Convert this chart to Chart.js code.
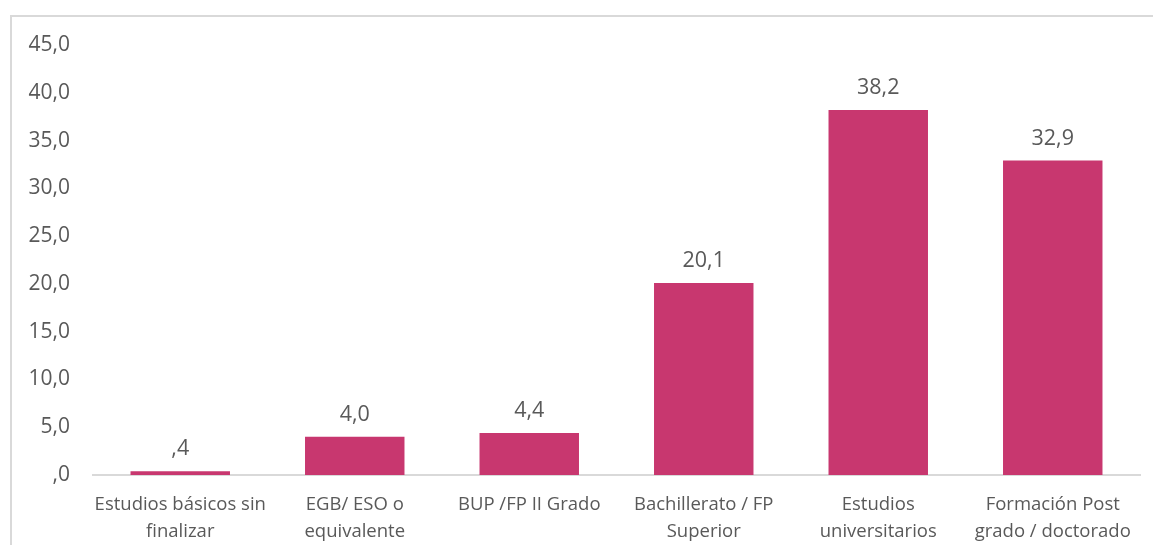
<!DOCTYPE html>
<html lang="es">
<head>
<meta charset="UTF-8">
<title>Nivel de estudios</title>
<style>
  body{margin:0;background:#fff;overflow:hidden;font-family:"Open Sans",sans-serif}
  .frame{position:absolute;left:10px;top:15px;width:1200px;height:600px;border:2px solid #d9d9d9;box-sizing:border-box}
  #wrap{position:absolute;left:0;top:0;width:1153px;height:545px}
</style>
</head>
<body>
<div class="frame"></div>
<div id="wrap"><canvas id="chart" width="1153" height="545"></canvas></div>
<script src="https://cdn.jsdelivr.net/npm/chart.js@4.4.1"></script>
<script>
/* ---------- data ---------- */
const categories = [
  ["Estudios básicos sin", "finalizar"],
  ["EGB/ ESO o", "equivalente"],
  ["BUP /FP II Grado"],
  ["Bachillerato / FP", "Superior"],
  ["Estudios", "universitarios"],
  ["Formación Post", "grado / doctorado"]
];
const values = [0.4, 4.0, 4.4, 20.1, 38.2, 32.9];
const yTicks = [0, 5, 10, 15, 20, 25, 30, 35, 40, 45];

const BAR  = '#c8376f';
const TEXT = '#595959';
const FONT = '"Open Sans", sans-serif';

// Spanish style: comma decimal, leading zero dropped (",4", ",0")
const fmt = v => v.toFixed(1).replace('.', ',').replace(/^0,/, ',');

/* ---------- value labels above bars ---------- */
const valueLabels = {
  id: 'valueLabels',
  afterDatasetsDraw(chart){
    const {ctx} = chart;
    const meta = chart.getDatasetMeta(0);
    ctx.save();
    ctx.fillStyle = TEXT;
    ctx.font = '21.5px ' + FONT;
    ctx.textAlign = 'center';
    ctx.textBaseline = 'middle';
    meta.data.forEach((bar, i) => {
      ctx.fillText(fmt(values[i]), bar.x, bar.y - 22);
    });
    ctx.restore();
  }
};

new Chart(document.getElementById('chart'), {
  type: 'bar',
  data: {
    labels: categories,
    datasets: [{
      data: values,
      backgroundColor: BAR,
      categoryPercentage: 1,
      barPercentage: 0.57
    }]
  },
  options: {
    responsive: false,
    animation: false,
    layout: {padding: {top: 45, right: 13, left: 0, bottom: 0}},
    plugins: {legend: {display: false}, tooltip: {enabled: false}},
    scales: {
      x: {
        grid: {display: false},
        border: {color: '#d9d9d9', width: 2},
        ticks: {color: TEXT, font: {family: FONT, size: 18.5, lineHeight: 1.42}, padding: 9, maxRotation: 0, autoSkip: false},
        afterFit(s){ s.height = 70; }
      },
      y: {
        min: 0, max: 45,
        grid: {display: false},
        border: {display: false},
        afterBuildTicks(s){ s.ticks = yTicks.map(v => ({value: v})); },
        ticks: {color: TEXT, font: {family: FONT, size: 21}, padding: 15, callback: v => fmt(v)},
        afterFit(s){ s.width = 93; }
      }
    }
  },
  plugins: [valueLabels]
});
</script>
</body>
</html>
